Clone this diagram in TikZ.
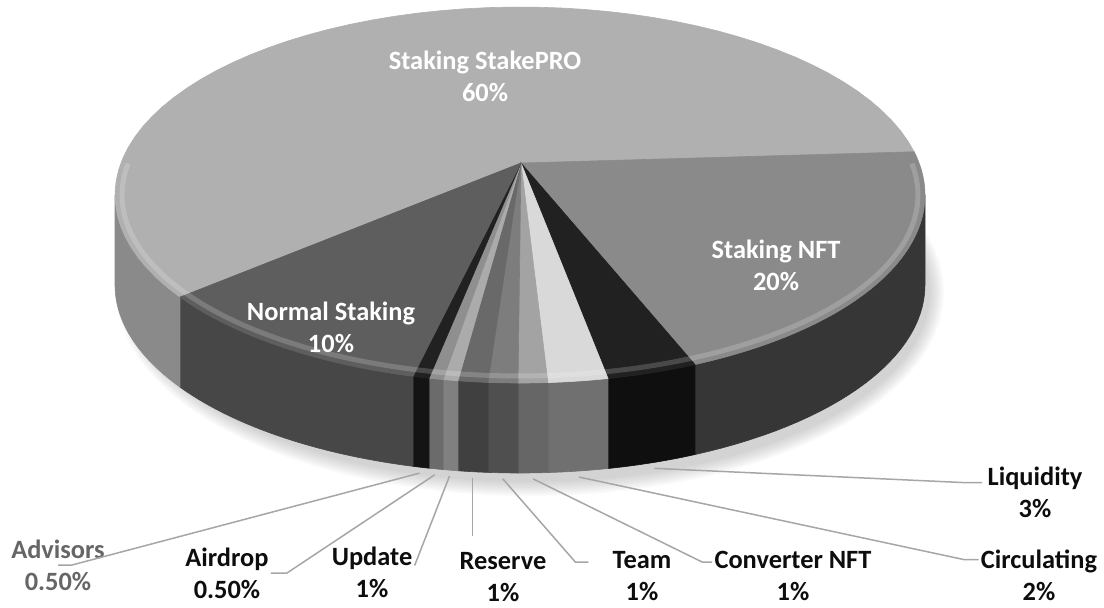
\documentclass[tikz,border=0pt]{standalone}
\usepackage{fontspec}
\setmainfont{Carlito}
\begin{document}
\begin{tikzpicture}[
    x=0.5pt, y=-0.5pt,
    pietext/.style={font=\bfseries\fontsize{13.2}{16}\selectfont, text=white, align=center},
    callout/.style={font=\bfseries\fontsize{13.2}{16}\selectfont, text=black!95, align=center, inner sep=1pt},
    leader/.style={draw=black!35, line width=0.75pt},
]
\useasboundingbox (0,0) rectangle (1104,607);

% soft shadow under the disc
\foreach \k in {0,...,7} {
    \fill[black, opacity=0.025] plot[domain=0:360, samples=90] ({530+(400+2*\k)*cos(\x)},{292+(190+2*\k)*sin(\x)});
}

% sides of the disc (front half only)
\foreach \a/\b/\col in {0/64.4/black!79, 64.4/77.45/black!94, 77.45/86.04/black!56,
        86.04/90.28/black!60, 90.28/94.53/black!69, 94.53/98.81/black!75,
        98.81/100.96/black!50, 100.96/102.98/black!58, 102.98/105.32/black!92,
        105.32/147.1/black!72, 147.1/180/black!46} {
    \filldraw[fill=\col, draw=\col, line width=0.3pt]
        plot[domain=\a:\b, samples=30] ({520+405*cos(\x)},{195+188*sin(\x)})
        -- plot[domain=\b:\a, samples=30] ({520+405*cos(\x)},{285+188*sin(\x)}) -- cycle;
}

% top face, slices meet at the apex
\foreach \a/\b/\col in {147.1/346.7/black!31, 346.7/424.4/black!46, 64.4/77.45/black!87,
        77.45/86.04/black!15, 86.04/90.28/black!36, 90.28/94.53/black!51,
        94.53/98.81/black!59, 98.81/100.96/black!33, 100.96/102.98/black!44,
        102.98/105.32/black!87, 105.32/147.1/black!63} {
    \filldraw[fill=\col, draw=\col, line width=0.3pt]
        (521,163) -- plot[domain=\a:\b, samples=60] ({520+405*cos(\x)},{195+188*sin(\x)}) -- cycle;
}

% bevel highlight along the rim
\draw[white, opacity=0.18, line width=2.5pt] plot[domain=-10:190, samples=90] ({520+398*cos(\x)},{195+181*sin(\x)});

% labels inside the disc
\node[pietext] (stakepro) at (485,76.5) {Staking StakePRO\\60\%};
\node[pietext] (nft) at (776,265.5) {Staking NFT\\20\%};
\node[pietext] (normal) at (331,327.5) {Normal Staking\\10\%};

% callouts under the disc
\node[callout, text=black!60] (advisors) at (58,565) {Advisors\\0.50\%};
\node[callout] (airdrop) at (227,573) {Airdrop\\0.50\%};
\node[callout] (update) at (372,572.5) {Update\\1\%};
\node[callout] (reserve) at (503,577) {Reserve\\1\%};
\node[callout] (team) at (642,576) {Team\\1\%};
\node[callout] (conv) at (793,576) {Converter NFT\\1\%};
\node[callout] (circ) at (1039,575.5) {Circulating\\2\%};
\node[callout] (liq) at (1035,492.5) {Liquidity\\3\%};

% leader start points on the lower rim
\foreach \nm/\m in {advisors/104.15, airdrop/101.97, update/99.88, reserve/96.67,
        team/92.4, conv/88.16, circ/81.75, liq/70.9} {
    \coordinate (c-\nm) at ({520+411*cos(\m)},{285+194*sin(\m)});
}
\coordinate (e-reserve) at ([yshift=7pt]c-reserve |- reserve.north);

% leader lines
\draw[leader] (c-advisors) -- ([xshift=7pt]advisors.center) -- (advisors.center);
\draw[leader] (c-airdrop) -- ([xshift=8pt]airdrop.east) -- (airdrop.east);
\draw[leader] (c-update) -- ([yshift=3.5pt]update.east);
\draw[leader] (c-reserve) -- (e-reserve);
\draw[leader] (c-team) -- ([shift={(-17.5pt,7pt)}]team.west) -- ([shift={(-11pt,7pt)}]team.west);
\draw[leader] (c-conv) -- ([shift={(-5pt,7pt)}]conv.west) -- ([yshift=7pt]conv.west);
\draw[leader] (c-circ) -- ([shift={(-7.5pt,8pt)}]circ.west) -- ([yshift=8pt]circ.west);
\draw[leader] (c-liq) -- ([shift={(-11.5pt,5pt)}]liq.west) -- ([shift={(-1.5pt,5pt)}]liq.west);

\end{tikzpicture}
\end{document}
